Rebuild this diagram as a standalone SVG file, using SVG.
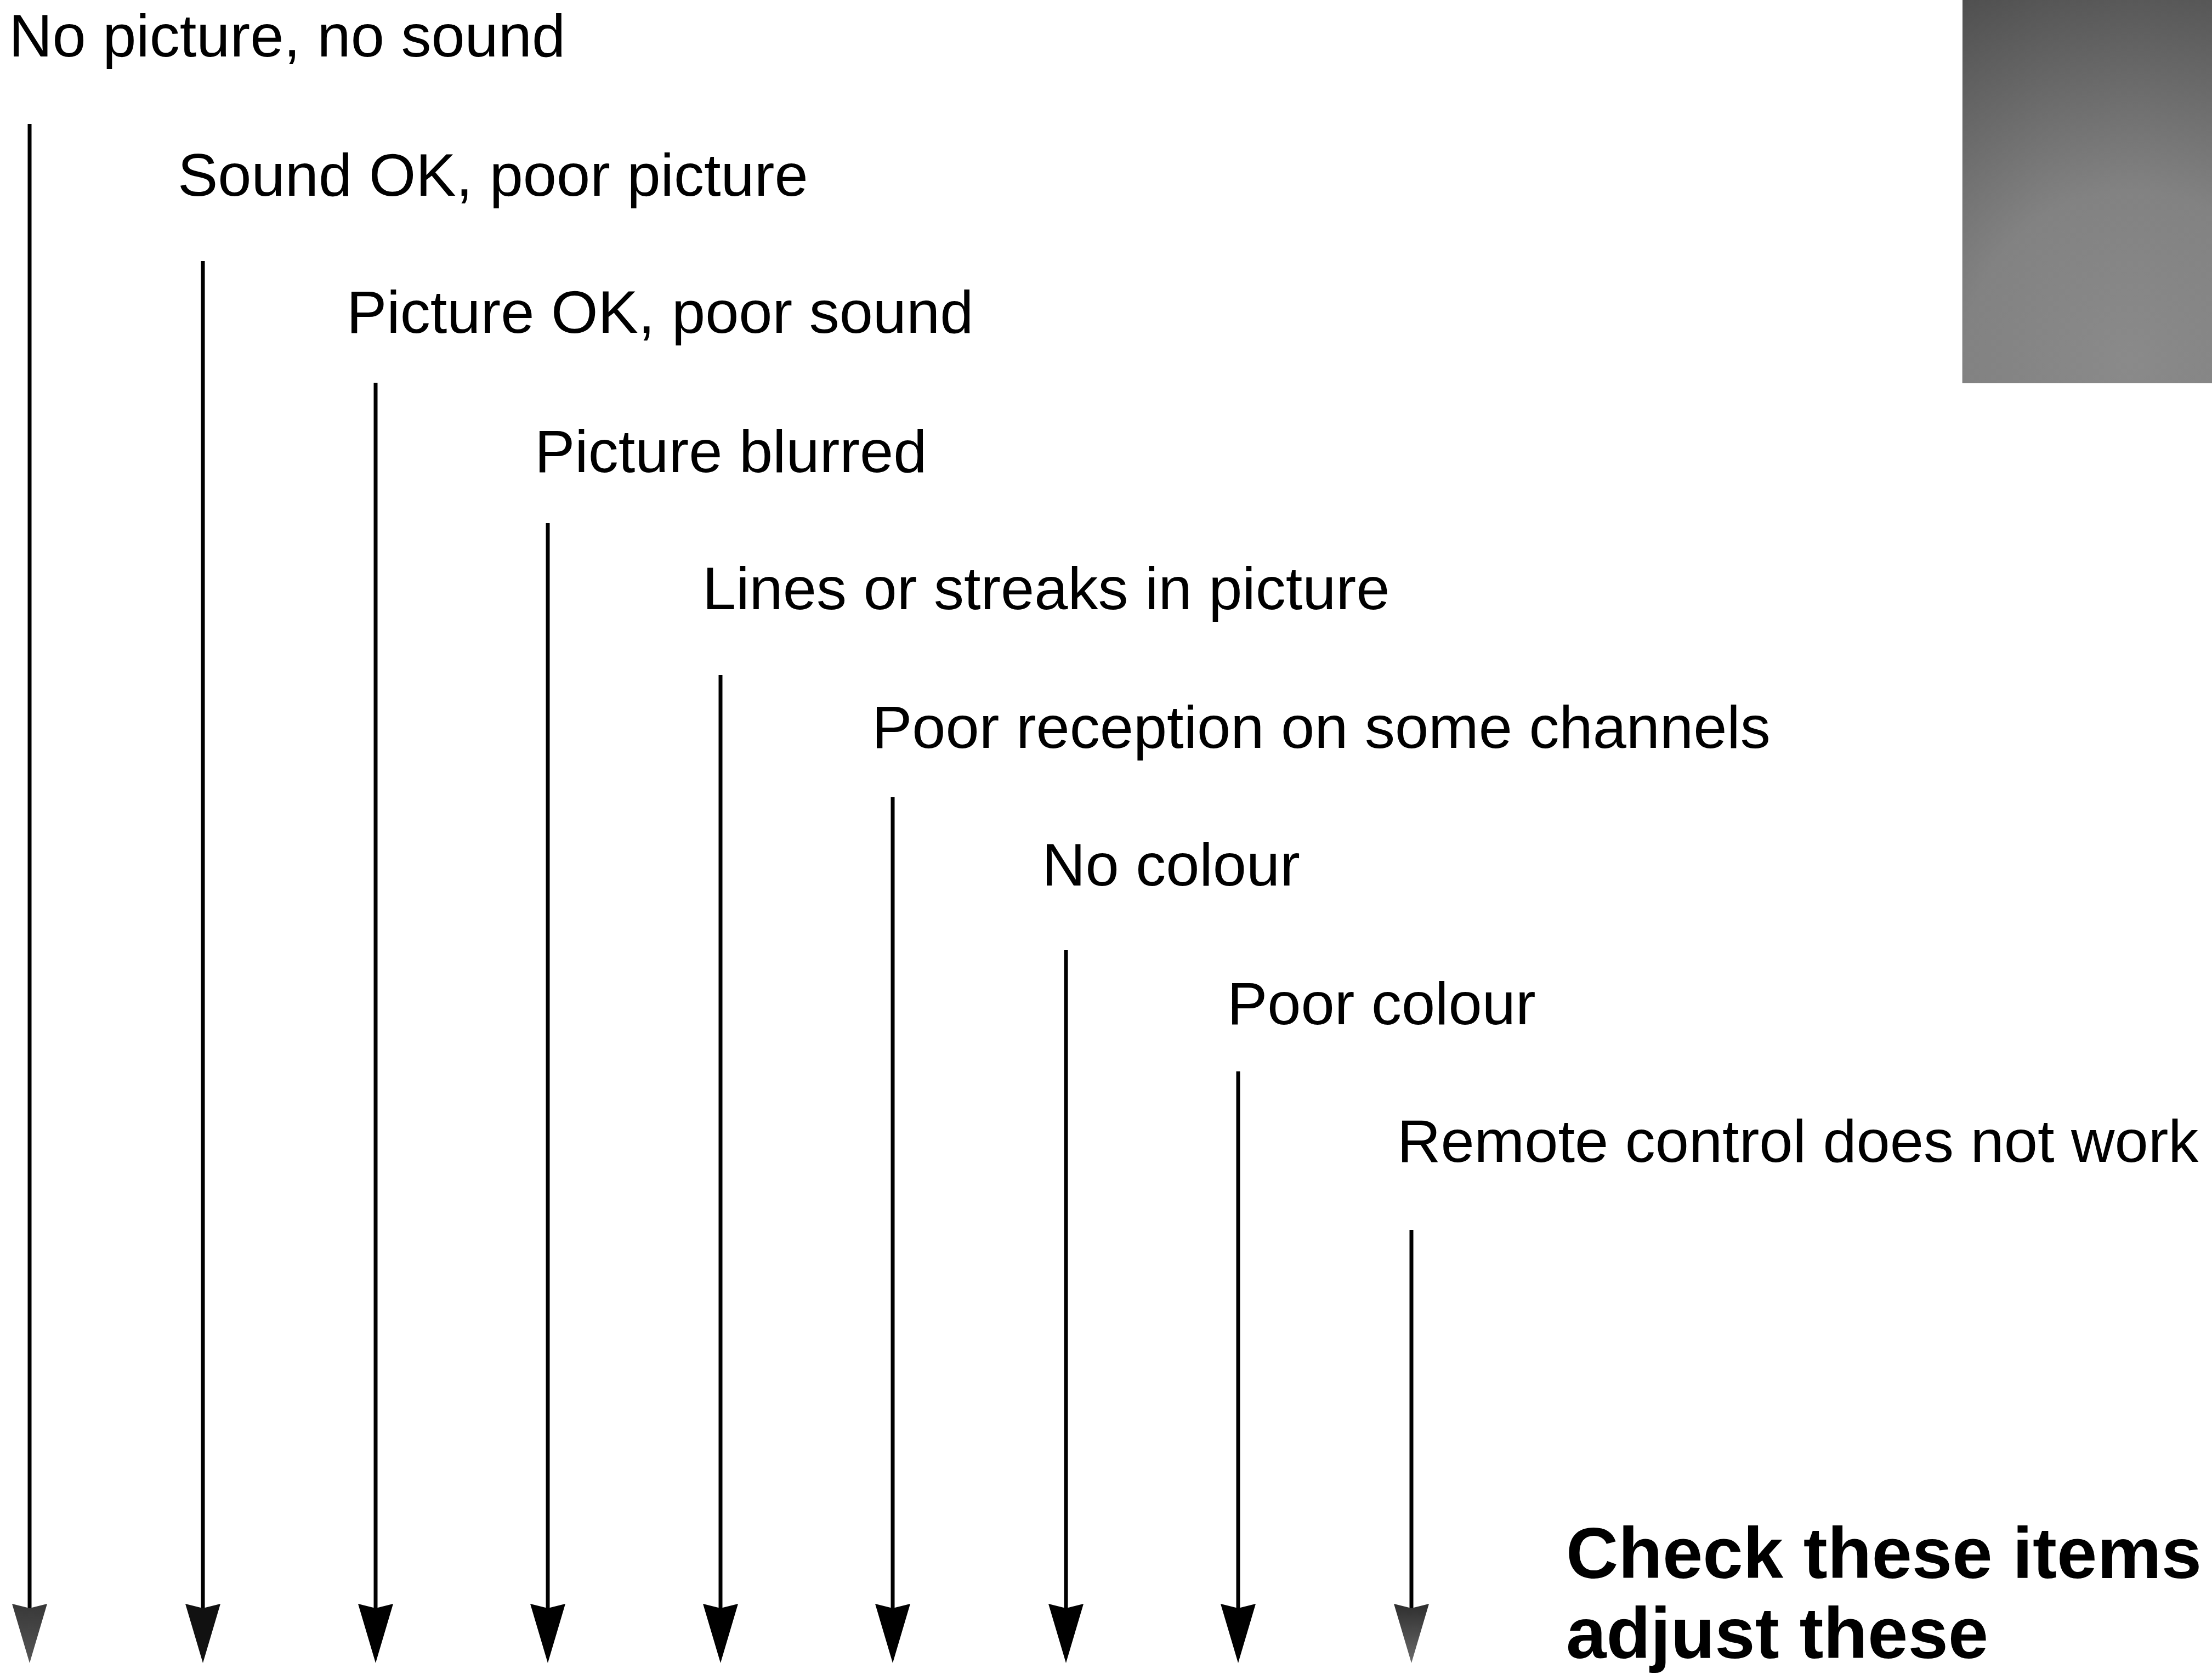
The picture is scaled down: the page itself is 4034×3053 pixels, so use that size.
<svg xmlns="http://www.w3.org/2000/svg" width="4034" height="3053" viewBox="0 0 4034 3053">
  <style>
    .lbl { font-family: "Liberation Sans", Arial, Helvetica, sans-serif; font-size: 110px; fill: #000; }
    .bold { font-family: "Liberation Sans", Arial, Helvetica, sans-serif; font-size: 132px; font-weight: bold; fill: #000; }
    .conn { stroke: #000; stroke-width: 7; fill: none; }
  </style>
  <defs>
    <radialGradient id="boxGrad" gradientUnits="userSpaceOnUse" cx="3900" cy="640" r="760" fx="3880" fy="660">
      <stop offset="0" stop-color="#8a8a8a"/>
      <stop offset="0.4" stop-color="#828282"/>
      <stop offset="1" stop-color="#4a4a4a"/>
    </radialGradient>
    <linearGradient id="head1Grad" x1="0" y1="0" x2="1" y2="0">
      <stop offset="0" stop-color="#383838"/>
      <stop offset="1" stop-color="#555555"/>
    </linearGradient>
    <linearGradient id="head9Grad" x1="0" y1="0" x2="1" y2="0">
      <stop offset="0" stop-color="#2e2e2e"/>
      <stop offset="1" stop-color="#6a6a6a"/>
    </linearGradient>
    <marker id="ah" markerUnits="userSpaceOnUse" viewBox="-1 -33 110 66" markerWidth="110" markerHeight="66" refX="8" refY="0" orient="auto">
      <path d="M0,-32 L108,0 L0,32 L8,0 Z" fill="#000"/>
    </marker>
    <marker id="ah2" markerUnits="userSpaceOnUse" viewBox="-1 -33 110 66" markerWidth="110" markerHeight="66" refX="8" refY="0" orient="auto">
      <path d="M0,-32 L108,0 L0,32 L8,0 Z" fill="#111"/>
    </marker>
    <marker id="ah1" markerUnits="userSpaceOnUse" viewBox="-1 -33 110 66" markerWidth="110" markerHeight="66" refX="8" refY="0" orient="auto">
      <path d="M0,-32 L108,0 L0,32 L8,0 Z" fill="url(#head1Grad)"/>
    </marker>
    <marker id="ah9" markerUnits="userSpaceOnUse" viewBox="-1 -33 110 66" markerWidth="110" markerHeight="66" refX="8" refY="0" orient="auto">
      <path d="M0,-32 L108,0 L0,32 L8,0 Z" fill="url(#head9Grad)"/>
    </marker>
  </defs>

  <rect width="4034" height="3053" fill="#fff"/>

  <g id="shade-box">
    <rect x="3578" y="0" width="456" height="699" fill="url(#boxGrad)"/>
    <line x1="3579" y1="0" x2="3579" y2="699" stroke="#a8a8a8" stroke-width="2"/>
  </g>

  <g id="node-1"><text class="lbl" x="16" y="103">No picture, no sound</text></g>
  <g id="node-2"><text class="lbl" x="324" y="357">Sound OK, poor picture</text></g>
  <g id="node-3"><text class="lbl" x="632" y="607">Picture OK, poor sound</text></g>
  <g id="node-4"><text class="lbl" x="975" y="861">Picture blurred</text></g>
  <g id="node-5"><text class="lbl" x="1281" y="1111">Lines or streaks in picture</text></g>
  <g id="node-6"><text class="lbl" x="1590" y="1364">Poor reception on some channels</text></g>
  <g id="node-7"><text class="lbl" x="1900" y="1615">No colour</text></g>
  <g id="node-8"><text class="lbl" x="2238" y="1868">Poor colour</text></g>
  <g id="node-9"><text class="lbl" x="2548" y="2119">Remote control does not work</text></g>

  <g id="node-target">
    <text class="bold" x="2856" y="2878">Check these items</text>
    <text class="bold" x="2856" y="3024">adjust these</text>
  </g>

  <g id="connectors">
    <line class="conn" x1="54" y1="226" x2="54" y2="2933" marker-end="url(#ah1)"/>
    <line class="conn" x1="370" y1="476" x2="370" y2="2933" marker-end="url(#ah2)"/>
    <line class="conn" x1="685" y1="698" x2="685" y2="2933" marker-end="url(#ah)"/>
    <line class="conn" x1="999" y1="954" x2="999" y2="2933" marker-end="url(#ah)"/>
    <line class="conn" x1="1314" y1="1231" x2="1314" y2="2933" marker-end="url(#ah)"/>
    <line class="conn" x1="1628" y1="1454" x2="1628" y2="2933" marker-end="url(#ah)"/>
    <line class="conn" x1="1944" y1="1733" x2="1944" y2="2933" marker-end="url(#ah)"/>
    <line class="conn" x1="2258" y1="1954" x2="2258" y2="2933" marker-end="url(#ah)"/>
    <line class="conn" x1="2574" y1="2243" x2="2574" y2="2933" marker-end="url(#ah9)"/>
  </g>
</svg>
